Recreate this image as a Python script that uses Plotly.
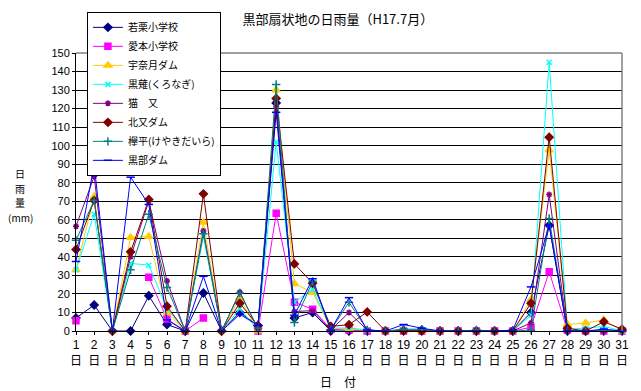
import plotly.graph_objects as go

days = list(range(1, 32))
tick_text = [f"{d}<br>日" for d in days]
y_ticks = list(range(0, 151, 10))

wakakuri = [7, 14, 0, 0, 19, 3.5, 0, 20.5, 0, 10, 3, 123, 7, 10, 0, 0, 0, 0, 0.5, 0.5,
            0, 0, 0, 0, 0, 10, 57, 0, 0, 0, 0]
aimoto = [5.5, None, None, None, 29, 6.5, 0, 7, None, None, 0, 63.5, 15.5, 11.8, 1, 0.5,
          0, 0, 0, 0, 0, 0, 0, 0, 0, 2, 32, 0.5, 0, 0, 0]
unazuki = [33, 72.5, 0, 50.5, 51, 10, 0, 58.7, 0, 17.8, 0, 130, 25.5, 20.8, 1.5, 1.2,
           0.5, 0, 0.5, 0, 0, 0, 0, 0, 0, 17, 97.7, 3.5, 4.3, 6, 0]
kuronagi = [33, 63, 0, 36.5, 35.5, 12, 0, 51, 0, 12, 0.5, 102, 15.5, 22.5, 1.5, 1.7,
            0.5, 0, 0.5, 0.5, 0, 0, 0, 0, 0, 8.5, 145, 1, 1.5, 2.5, 0]
nekomata = [56.5, 83.5, 0, 40, 70, 27, 0, 54, 0, 21, 1, 121, 10.5, 11, 0.5, 10,
            0.5, 0, 0.5, 0, 0, 0, 0, 0, 0, 4.4, 73.6, 0, 0, 0, 0]
kitamata = [44, 70.5, 0, 42.7, 71, 13.4, 0, 74, 0, 15, 2.8, 125.5, 36.2, 25.8, 2.5, 3.4,
            10.3, 0, 0, 0, 0, 0, 0, 0, 0, 15, 104.5, 1.5, 0, 5, 1]
keyakidaira = [49, 70.5, 0, 33, 63, 23.5, 0, 52.5, 0, 20.5, 1.5, 133, 4.6, 26.8, 0.5, 15.5,
               0.5, 0, 1, 1, 0, 0, 0.5, 0, 0, 0.5, 60.7, 0, 0, 0.5, 0]
kurobe = [37.5, 89.5, 0, 83, 68.3, 6, 0, 29.5, 0, 9, 3, 118, 8.5, 28.2, 0.5, 18,
          0.5, 0, 3.5, 1.5, 0, 0, 0, 0, 0.5, 23.8, 57.2, 0, 0, 1, 0]

series = [
    ("若栗小学校", wakakuri, "#000080", "diamond", 6),
    ("愛本小学校", aimoto, "#FF00FF", "square", 6),
    ("宇奈月ダム", unazuki, "#FFCC00", "triangle-up", 7),
    ("黒薙(くろなぎ)", kuronagi, "#00FFFF", "x-thin-open", 5),
    ("猫　又", nekomata, "#800080", "asterisk-open", 5),
    ("北又ダム", kitamata, "#800000", "diamond", 6),
    ("欅平(けやきだいら)", keyakidaira, "#008080", "cross-thin-open", 6),
    ("黒部ダム", kurobe, "#0000FF", "line-ew-open", 6),
]

font = "Noto Sans CJK JP, sans-serif"
tick_font = "Liberation Sans, Noto Sans CJK JP, sans-serif"

fig = go.Figure()
for name, vals, color, sym, size in series:
    fig.add_trace(go.Scatter(
        x=days, y=vals, name=name, mode="lines+markers",
        line=dict(color=color, width=1),
        marker=dict(symbol=sym, size=size, color=color,
                    line=dict(color=color, width=1.5)),
        cliponaxis=False,
    ))

fig.update_layout(
    width=641, height=391,
    margin=dict(l=76, r=15, t=47, b=60),
    paper_bgcolor="white", plot_bgcolor="white",
    font=dict(family=font, size=11, color="black"),
    title=dict(text="黒部扇状地の日雨量（H17.7月）", x=0.527, xanchor="center",
               y=0.949, yanchor="middle", font=dict(size=13, family=font)),
    showlegend=True,
    legend=dict(x=0.02, y=1.148, xanchor="left", yanchor="top",
                bgcolor="white", bordercolor="black", borderwidth=1,
                font=dict(size=10, family=font), tracegroupgap=0,
                itemwidth=30),
    xaxis=dict(range=[1, 31], tickmode="array", tickvals=days, ticktext=tick_text,
               showgrid=False, showline=True, linecolor="black", linewidth=1,
               ticks="outside", ticklen=3, tickcolor="black",
               zeroline=False, tickfont=dict(size=12, family=tick_font)),
    yaxis=dict(range=[0, 150], tickmode="array", tickvals=y_ticks,
               showgrid=True, gridcolor="black", gridwidth=1,
               showline=True, linecolor="black", linewidth=1,
               ticks="outside", ticklen=3, tickcolor="black", zeroline=False,
               tickfont=dict(size=11, family=tick_font)),
)

fig.add_shape(type="line", xref="paper", yref="paper", x0=0, x1=1, y0=1, y1=1,
              line=dict(color="#808080", width=1.5), layer="above")
fig.add_shape(type="line", xref="paper", yref="paper", x0=1, x1=1, y0=0, y1=1,
              line=dict(color="#808080", width=1.5), layer="above")

ytitle_parts = [("日", 0.567), ("雨", 0.514), ("量", 0.461), ("(mm)", 0.408)]
for txt, yy in ytitle_parts:
    fig.add_annotation(text=txt, xref="paper", yref="paper",
                       x=-0.102, y=yy, xanchor="center", yanchor="middle",
                       showarrow=False, font=dict(size=10, family=font))
fig.add_annotation(text="日　付", xref="paper", yref="paper",
                   x=0.48, y=-0.183, xanchor="center", yanchor="middle",
                   showarrow=False, font=dict(size=12, family=font))

fig.write_html("out.html", config={"displayModeBar": False},
               post_script="document.body.style.margin='0';")
